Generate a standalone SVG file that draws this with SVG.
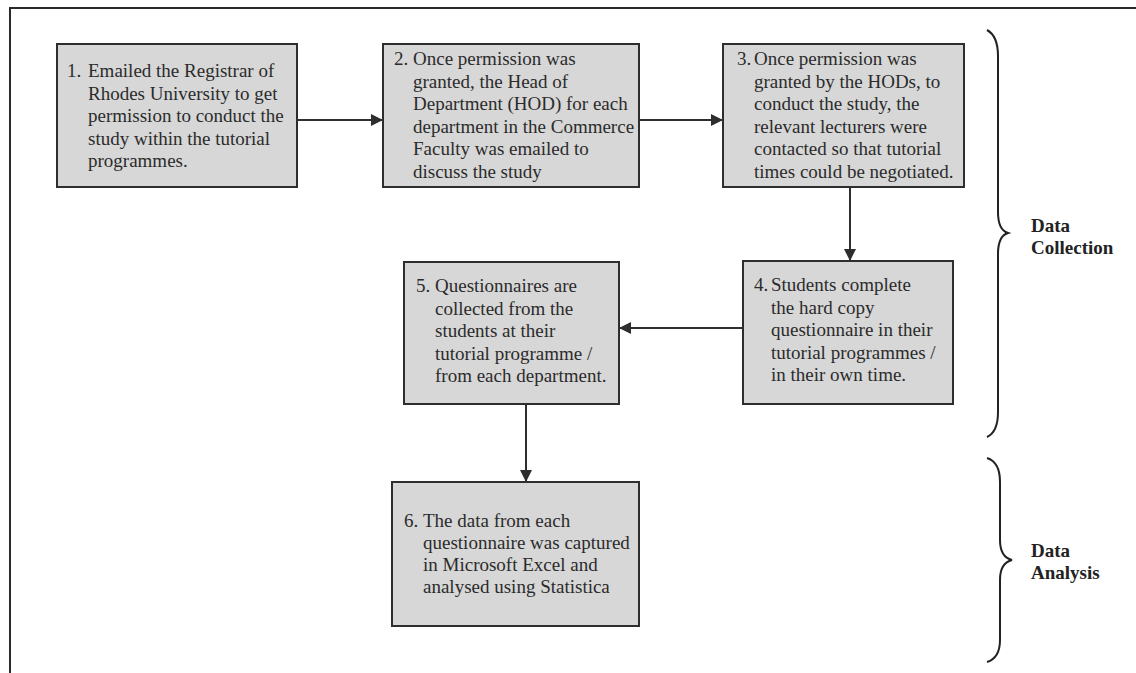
<svg xmlns="http://www.w3.org/2000/svg" width="1136" height="673" viewBox="0 0 1136 673">
<style>
.bg{fill:#ffffff}
.frame{stroke:#2a2a2a;stroke-width:2;fill:none}
.box{fill:#d7d7d7;stroke:#2e2e2e;stroke-width:2}
.t{font-family:"Liberation Serif","Times New Roman",serif;font-size:19px;fill:#2b2b2b}
.lbl{font-family:"Liberation Serif","Times New Roman",serif;font-size:19px;font-weight:bold;fill:#222}
.conn{stroke:#2e2e2e;stroke-width:2;fill:none}
.brace{stroke:#222;stroke-width:2;fill:none}
</style>
<defs>
<marker id="ah" viewBox="0 0 10 10" refX="10" refY="5" markerWidth="8" markerHeight="8" markerUnits="userSpaceOnUse" orient="auto">
<path d="M0,0 L10,5 L0,10 Z" fill="#2e2e2e"/>
</marker>
<marker id="ah2" viewBox="0 0 12 12" refX="12" refY="6" markerWidth="12" markerHeight="12" markerUnits="userSpaceOnUse" orient="auto">
<path d="M0,0 L12,6 L0,12 Z" fill="#2e2e2e"/>
</marker>
</defs>
<rect class="bg" x="0" y="0" width="1136" height="673"/>
<g id="frame">
<path class="frame" d="M10,673 L10,8 L1136,8"/>
</g>
<g id="connectors">
<line class="conn" x1="297" y1="120" x2="383" y2="120" marker-end="url(#ah2)"/>
<line class="conn" x1="639" y1="120" x2="723" y2="120" marker-end="url(#ah2)"/>
<line class="conn" x1="850" y1="187" x2="850" y2="261" marker-end="url(#ah2)"/>
<line class="conn" x1="743" y1="328" x2="619" y2="328" marker-end="url(#ah2)"/>
<line class="conn" x1="526" y1="404" x2="526" y2="482" marker-end="url(#ah2)"/>
</g>
<g id="node1">
<rect class="box" x="57" y="44" width="240" height="143"/>
<text class="t" x="67" y="77">1.</text>
<text class="t"><tspan x="88" y="77">Emailed the Registrar of</tspan><tspan x="88" y="99.5">Rhodes University to get</tspan><tspan x="88" y="122">permission to conduct the</tspan><tspan x="88" y="144.5">study within the tutorial</tspan><tspan x="88" y="167">programmes.</tspan></text>
</g>
<g id="node2">
<rect class="box" x="383" y="44" width="256" height="143"/>
<text class="t" x="394" y="65">2.</text>
<text class="t"><tspan x="413" y="65">Once permission was</tspan><tspan x="413" y="87.5">granted, the Head of</tspan><tspan x="413" y="110">Department (HOD) for each</tspan><tspan x="413" y="132.5">department in the Commerce</tspan><tspan x="413" y="155">Faculty was emailed to</tspan><tspan x="413" y="177.5">discuss the study</tspan></text>
</g>
<g id="node3">
<rect class="box" x="723" y="44" width="241" height="143"/>
<text class="t" x="737" y="65">3.</text>
<text class="t"><tspan x="754" y="65">Once permission was</tspan><tspan x="754" y="87.5">granted by the HODs, to</tspan><tspan x="754" y="110">conduct the study, the</tspan><tspan x="754" y="132.5">relevant lecturers were</tspan><tspan x="754" y="155">contacted so that tutorial</tspan><tspan x="754" y="177.5">times could be negotiated.</tspan></text>
</g>
<g id="node4">
<rect class="box" x="743" y="261" width="210" height="143"/>
<text class="t" x="754" y="291">4.</text>
<text class="t"><tspan x="771" y="291">Students complete</tspan><tspan x="771" y="313.5">the hard copy</tspan><tspan x="771" y="336">questionnaire in their</tspan><tspan x="771" y="358.5">tutorial programmes /</tspan><tspan x="771" y="381">in their own time.</tspan></text>
</g>
<g id="node5">
<rect class="box" x="404" y="262" width="215" height="142"/>
<text class="t" x="416" y="292">5.</text>
<text class="t"><tspan x="435" y="292">Questionnaires are</tspan><tspan x="435" y="314.5">collected from the</tspan><tspan x="435" y="337">students at their</tspan><tspan x="435" y="359.5">tutorial programme /</tspan><tspan x="435" y="382">from each department.</tspan></text>
</g>
<g id="node6">
<rect class="box" x="392" y="482" width="247" height="144"/>
<text class="t" x="404" y="527">6.</text>
<text class="t"><tspan x="423" y="527">The data from each</tspan><tspan x="423" y="549">questionnaire was captured</tspan><tspan x="423" y="571">in Microsoft Excel and</tspan><tspan x="423" y="593">analysed using Statistica</tspan></text>
</g>
<g id="brace-collection">
<path class="brace" d="M987,30 Q998,36 998,56 L998,212 Q998,230 1008,233 Q998,236 998,254 L998,412 Q998,432 987,437"/>
<text class="lbl"><tspan x="1031" y="232">Data</tspan><tspan x="1031" y="254">Collection</tspan></text>
</g>
<g id="brace-analysis">
<path class="brace" d="M987,458 Q1000,462 1000,482 L1000,540 Q1000,557 1012,560 Q1000,563 1000,580 L1000,640 Q1000,658 987,662"/>
<text class="lbl"><tspan x="1031" y="557">Data</tspan><tspan x="1031" y="579">Analysis</tspan></text>
</g>
</svg>
